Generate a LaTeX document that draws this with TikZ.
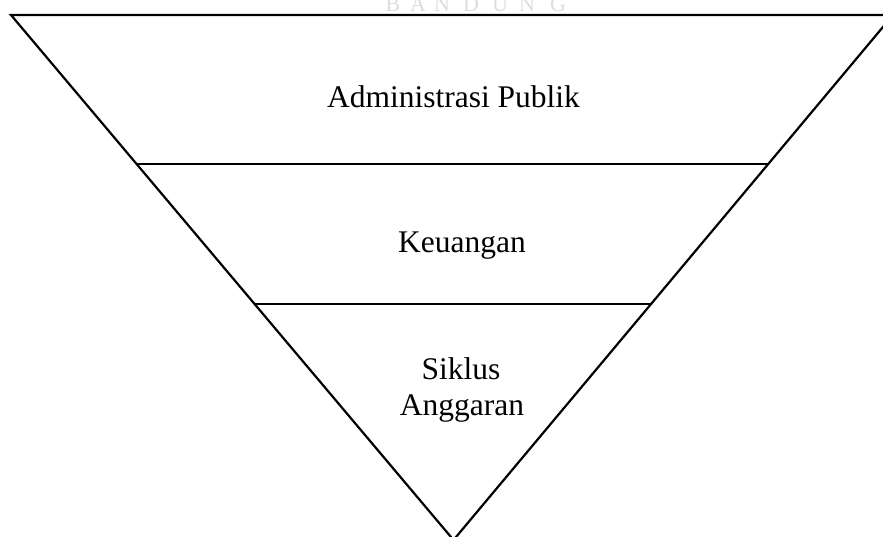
\documentclass[tikz,border=0pt]{standalone}
\usepackage{fontspec}
\setmainfont{Liberation Serif}
\usetikzlibrary{calc}
\definecolor{wmgray}{HTML}{DDDDDD}
\tikzset{
  edge/.style={line width=2.2pt, line cap=round, line join=miter},
  divider/.style={line width=1.3pt},
  label/.style={inner sep=0pt, anchor=base, font=\fontsize{31.5}{36}\selectfont},
  wm/.style={inner sep=0pt, anchor=base, text=wmgray, font=\fontsize{22}{24}\selectfont}
}
\begin{document}
\begin{tikzpicture}[x=1pt,y=-1pt]
\useasboundingbox (0,0) rectangle (883,537);
\clip (0,0) rectangle (883,537);
% watermark
\node[wm] (wm1) at (393,12) {B};
\node[wm] (wm2) at (418,12) {A};
\node[wm] (wm3) at (442,12) {N};
\node[wm] (wm4) at (471,12) {D};
\node[wm] (wm5) at (500,12) {U};
\node[wm] (wm6) at (527,12) {N};
\node[wm] (wm7) at (558,12) {G};
% triangle
\coordinate (L) at (11,15);
\coordinate (R) at (893,15);
\coordinate (A) at (453.5,540);
\draw[edge] (R) -- (L) -- (A) -- cycle;
\coordinate (L1) at ($(L)!0.2838!(A)$);
\coordinate (R1) at ($(R)!0.2838!(A)$);
\coordinate (L2) at ($(L)!0.5505!(A)$);
\coordinate (R2) at ($(R)!0.5505!(A)$);
\draw[divider] (L1) -- (R1);
\draw[divider] (L2) -- (R2);
% labels
\node[label] (adm) at (453.5,108) {Administrasi Publik};
\node[label] (keu) at (462,253) {Keuangan};
\node[label] (sik) at (461,379) {Siklus};
\node[label] (ang) at (462,415) {Anggaran};
\end{tikzpicture}
\end{document}
